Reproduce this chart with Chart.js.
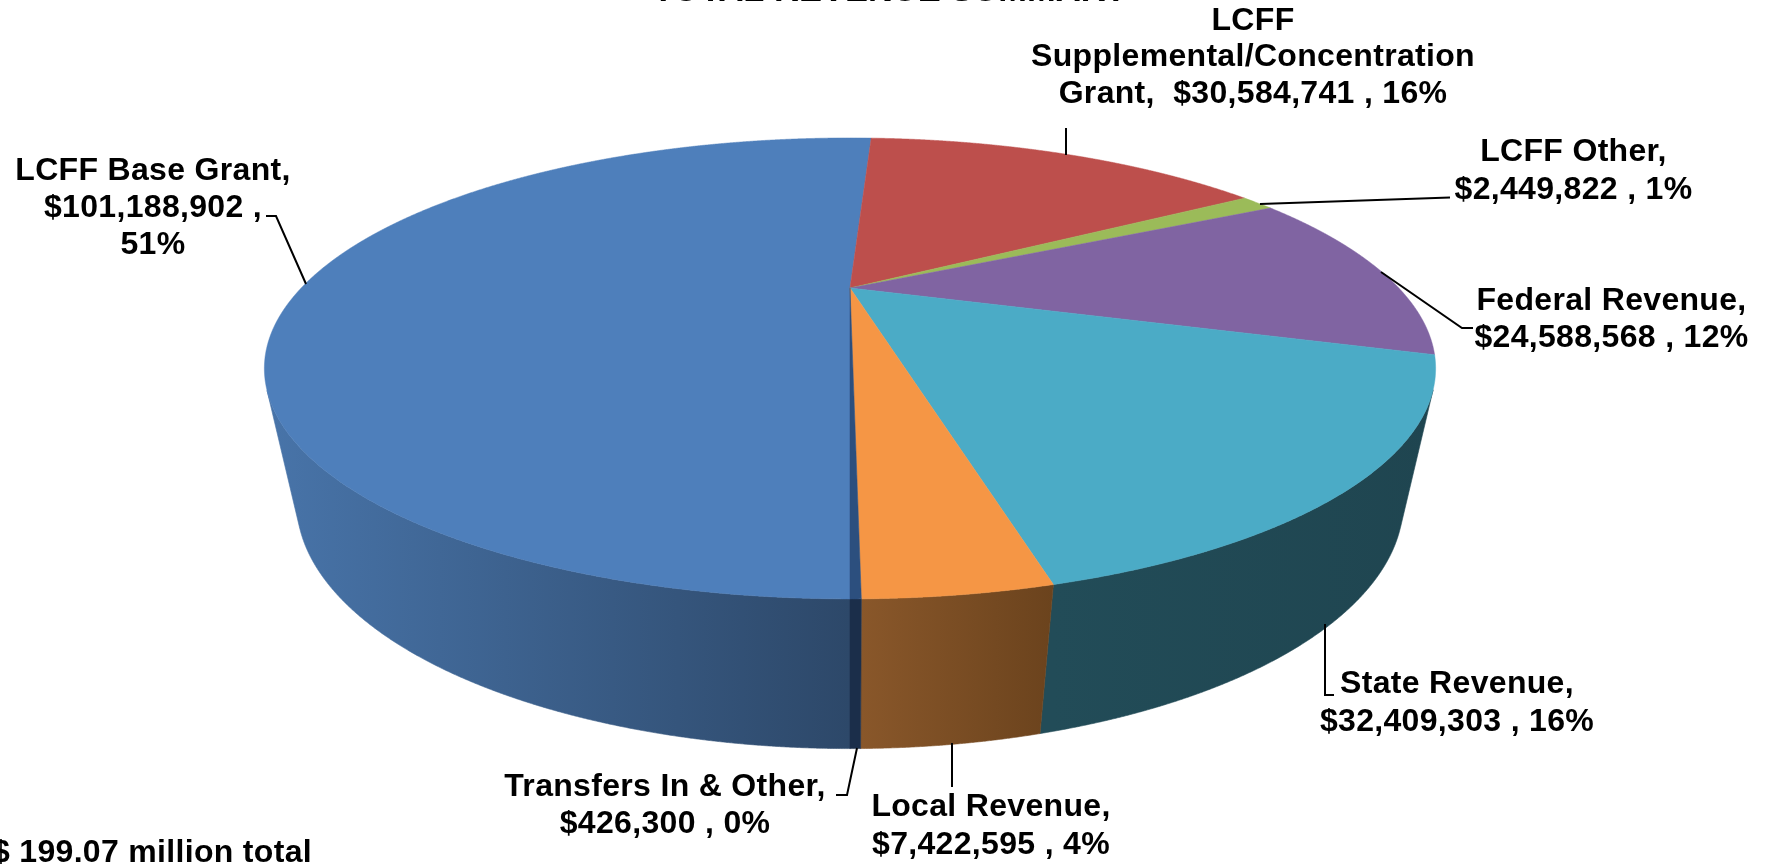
<!DOCTYPE html>
<html>
<head>
<meta charset="utf-8">
<style>
html,body{margin:0;padding:0;background:#fff;overflow:hidden}
canvas{display:block;filter:blur(0.45px)}
</style>
<script src="https://cdn.jsdelivr.net/npm/chart.js@4/dist/chart.umd.min.js"></script>
</head>
<body>
<canvas id="c" width="1769" height="864"></canvas>
<script>
const categories = ["LCFF Base Grant","LCFF Supplemental/Concentration Grant","LCFF Other","Federal Revenue","State Revenue","Local Revenue","Transfers In & Other"];
const revenue = [101188902,30584741,2449822,24588568,32409303,7422595,426300];
const percentLabels = ["51%","16%","1%","12%","16%","4%","0%"];
const topColors = ["#4e7fbb","#bd4f4c","#9bbb59","#8064a2","#4babc6","#f59645","#2c4f7e"];
const wallStart = ["#4874a9","#7a302e","#5e7135","#4d3c62","#224c58","#89572a","#1b2e4a"];
const wallEnd   = ["#2d4869","#7a302e","#5e7135","#4d3c62","#1f4550","#6b431d","#1b2e4a"];
const titleText = "TOTAL REVENUE SUMMARY";
const totalText = "$ 199.07 million total";

// label text lines, baseline positions and leader polylines, per slice order
const labelLines = [
  ["LCFF Base Grant,","$101,188,902 ,","51%"],
  ["LCFF","Supplemental/Concentration","Grant,  $30,584,741 , 16%"],
  ["LCFF Other,","$2,449,822 , 1%"],
  ["Federal Revenue,","$24,588,568 , 12%"],
  ["State Revenue,","$32,409,303 , 16%"],
  ["Local Revenue,","$7,422,595 , 4%"],
  ["Transfers In & Other,","$426,300 , 0%"]
];
const labelAnchors = [[153,179.5,37],[1253,29.5,36.5],[1573.5,161,37.7],[1611.5,309.5,37.7],[1457,693,37.5],[991,815.5,38],[665,795.5,37.7]];
const leaders = [
  [[306,284],[276,216],[266,216]],
  [[1066,155],[1066,128]],
  [[1260,204],[1450,197.5]],
  [[1381,272],[1462,328],[1473,328]],
  [[1325,624],[1325,695],[1334,695]],
  [[952,743],[952,787]],
  [[857,748],[847,795],[836,795]]
];

// projection of the flat pie onto the tilted 3-D disc
const view = {cx:850, cy:288, a:548.8, b:202.4, k:0.349, vx:850, vy:2850, s0:0.9335, sy:599, ds:0.00005};
function top3d(phi){
  const sx=Math.sin(phi), cy=Math.cos(phi), w=1+view.k*cy;
  return [view.cx+view.a*sx/w, view.cy-view.b*cy/w];
}
function bottom3d(p){
  const s=view.s0+(view.sy-p[1])*view.ds;
  return [view.vx+s*(p[0]-view.vx), view.vy+s*(p[1]-view.vy)];
}
function isFront(phi,d){
  const p=top3d(phi), q=top3d(phi+d);
  const tx=q[0]-p[0], ty=q[1]-p[1];
  return (ty*(view.vx-p[0]) - tx*(view.vy-p[1])) > 0;
}

const pie3d = {
  id:'pie3d',
  beforeDatasetDraw(chart,args){
    const ctx=chart.ctx, arcs=chart.getDatasetMeta(args.index).data, step=0.002;
    ctx.save();
    const spans=arcs.map(a=>[a.startAngle+Math.PI/2,a.endAngle+Math.PI/2]);
    // side walls
    spans.forEach((sp,i)=>{
      const tops=[];
      for(let f=sp[0];f<sp[1];f+=step){
        if(isFront(f,step)) tops.push(top3d(f));
      }
      if(isFront(sp[1]-step,step)) tops.push(top3d(sp[1]));
      if(tops.length<2) return;
      const xs=tops.map(p=>p[0]);
      const g=ctx.createLinearGradient(Math.min(...xs),0,Math.max(...xs),0);
      g.addColorStop(0,wallStart[i]); g.addColorStop(1,wallEnd[i]);
      ctx.beginPath();
      tops.forEach((p,j)=>j?ctx.lineTo(p[0],p[1]):ctx.moveTo(p[0],p[1]));
      tops.slice().reverse().forEach(p=>{const b=bottom3d(p);ctx.lineTo(b[0],b[1]);});
      ctx.closePath();
      ctx.fillStyle=g; ctx.strokeStyle=g; ctx.lineWidth=0.6;
      ctx.fill(); ctx.stroke();
    });
    // top faces
    spans.forEach((sp,i)=>{
      ctx.beginPath();
      ctx.moveTo(view.cx,view.cy);
      for(let f=sp[0];f<sp[1];f+=step){const p=top3d(f);ctx.lineTo(p[0],p[1]);}
      const e=top3d(sp[1]);ctx.lineTo(e[0],e[1]);
      ctx.closePath();
      ctx.fillStyle=topColors[i]; ctx.strokeStyle=topColors[i]; ctx.lineWidth=0.5;
      ctx.fill(); ctx.stroke();
    });
    ctx.restore();
    return false;
  },
  afterDraw(chart){
    const ctx=chart.ctx;
    ctx.save();
    ctx.strokeStyle="#000"; ctx.lineWidth=2; ctx.lineJoin="miter";
    leaders.forEach(l=>{
      ctx.beginPath();
      l.forEach((p,j)=>j?ctx.lineTo(p[0],p[1]):ctx.moveTo(p[0],p[1]));
      ctx.stroke();
    });
    ctx.fillStyle="#000"; ctx.font='bold 32px "Liberation Sans", Arial, sans-serif';
    ctx.letterSpacing="0.32px";
    ctx.textAlign="center"; ctx.textBaseline="alphabetic";
    labelLines.forEach((lines,i)=>{
      const a=labelAnchors[i];
      lines.forEach((t,j)=>ctx.fillText(t,a[0],a[1]+j*a[2]));
    });
    ctx.textAlign="right";
    ctx.fillText(totalText,312,861.5);
    ctx.textAlign="center";
    ctx.letterSpacing="0px";
    ctx.font='bold 34.5px "Liberation Sans", Arial, sans-serif';
    ctx.fillText(titleText,890,1);
    ctx.restore();
  }
};

new Chart(document.getElementById('c'),{
  type:'pie',
  data:{labels:categories,datasets:[{data:revenue,backgroundColor:topColors,borderWidth:0,percent:percentLabels}]},
  options:{
    responsive:false,animation:false,rotation:180,
    plugins:{legend:{display:false},tooltip:{enabled:false},title:{display:false}}
  },
  plugins:[pie3d]
});
</script>
</body>
</html>
